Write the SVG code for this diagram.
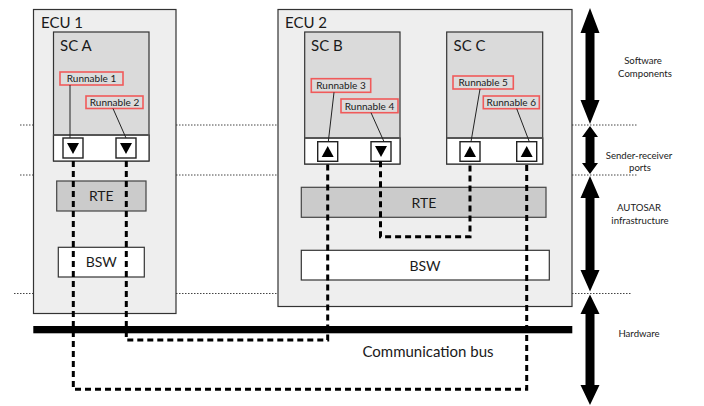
<svg xmlns="http://www.w3.org/2000/svg" width="704" height="406" viewBox="0 0 704 406">
  <style>
    text { font-family: Lato, "Open Sans", "Liberation Sans", sans-serif; fill: #1a1a1a; }
    .ecu { fill: #eeeeee; stroke: #333; stroke-width: 1.2; }
    .sc { fill: #dadada; stroke: #333; stroke-width: 1.2; }
    .strip { fill: #ffffff; stroke: #333; stroke-width: 1.2; }
    .stripline { stroke: #555; stroke-width: 2; }
    .rte { fill: #cbcbcb; stroke: #444; stroke-width: 1.2; }
    .bsw { fill: #ffffff; stroke: #333; stroke-width: 1.2; }
    .run { fill: #dcdcdc; stroke: #f05a5a; stroke-width: 1.6; }
    .port { fill: #ffffff; stroke: #222; stroke-width: 1.4; }
    .tri { fill: #000; }
    .link { stroke: #222; stroke-width: 1; fill: none; }
    .layer { stroke: #444; stroke-width: 1; stroke-dasharray: 1.5 1.5; fill: none; }
    .flow { stroke: #000; stroke-width: 3; stroke-dasharray: 6 4; fill: none; }
    .big { font-size: 15px; }
    .mid { font-size: 14px; }
    .small { font-size: 10px; }
    .side { font-size: 9.6px; text-anchor: middle; }
  </style>

  <!-- layer separators -->
  <g id="layers">
    <line class="layer" x1="20" y1="125" x2="638" y2="125"/>
    <line class="layer" x1="20" y1="175" x2="638" y2="175"/>
    <line class="layer" x1="14" y1="293.5" x2="632" y2="293.5"/>
  </g>

  <!-- ECU 1 -->
  <g id="ecu1">
    <rect class="ecu" x="33.5" y="9.5" width="142.5" height="304"/>
    <text class="big" x="41" y="28">ECU 1</text>
  </g>
  <g id="sc-a">
    <rect class="sc" x="53.5" y="32" width="95.5" height="129"/>
    <rect class="strip" x="53.5" y="135" width="95.5" height="26"/>
    <line class="stripline" x1="53.5" y1="135" x2="149" y2="135"/>
    <text class="big" x="60" y="51">SC A</text>
  </g>
  <g id="runnable1">
    <rect class="run" x="60" y="72" width="63" height="13"/>
    <text class="small" x="91.5" y="82" text-anchor="middle">Runnable 1</text>
  </g>
  <g id="runnable2">
    <rect class="run" x="86" y="96" width="57" height="12.5"/>
    <text class="small" x="114.5" y="105.8" text-anchor="middle">Runnable 2</text>
  </g>
  <g id="port-a1">
    <rect class="port" x="63" y="138" width="20" height="20"/>
    <polygon class="tri" points="67,143 79,143 73,154"/>
  </g>
  <g id="port-a2">
    <rect class="port" x="116" y="138" width="20" height="20"/>
    <polygon class="tri" points="120,143 132,143 126,154"/>
  </g>
  <g id="rte1">
    <rect class="rte" x="56.7" y="181" width="89.3" height="30"/>
    <text class="mid" x="101.3" y="201" text-anchor="middle">RTE</text>
  </g>
  <g id="bsw1">
    <rect class="bsw" x="58.3" y="247.3" width="86" height="29.7"/>
    <text class="mid" x="101.3" y="267" text-anchor="middle">BSW</text>
  </g>

  <!-- ECU 2 -->
  <g id="ecu2">
    <rect class="ecu" x="278" y="9.5" width="294" height="297"/>
    <text class="big" x="285" y="28">ECU 2</text>
  </g>
  <g id="sc-b">
    <rect class="sc" x="304.7" y="32" width="95.3" height="132"/>
    <rect class="strip" x="304.7" y="138" width="95.3" height="26"/>
    <line class="stripline" x1="304.7" y1="138" x2="400" y2="138"/>
    <text class="big" x="311" y="51">SC B</text>
  </g>
  <g id="sc-c">
    <rect class="sc" x="446.7" y="32" width="96" height="132"/>
    <rect class="strip" x="446.7" y="138" width="96" height="26"/>
    <line class="stripline" x1="446.7" y1="138" x2="542.7" y2="138"/>
    <text class="big" x="453.5" y="51">SC C</text>
  </g>
  <g id="runnable3">
    <rect class="run" x="311.3" y="78.7" width="59.4" height="13.6"/>
    <text class="small" x="341" y="89.2" text-anchor="middle">Runnable 3</text>
  </g>
  <g id="runnable4">
    <rect class="run" x="341" y="99" width="57" height="13.7"/>
    <text class="small" x="369.5" y="109.5" text-anchor="middle">Runnable 4</text>
  </g>
  <g id="runnable5">
    <rect class="run" x="453" y="76" width="60.3" height="13"/>
    <text class="small" x="483.2" y="86.2" text-anchor="middle">Runnable 5</text>
  </g>
  <g id="runnable6">
    <rect class="run" x="483.3" y="96" width="56" height="12.7"/>
    <text class="small" x="511.3" y="106" text-anchor="middle">Runnable 6</text>
  </g>
  <g id="port-b1">
    <rect class="port" x="317.7" y="141.7" width="20" height="19.6"/>
    <polygon class="tri" points="321.7,157 333.7,157 327.7,146"/>
  </g>
  <g id="port-b2">
    <rect class="port" x="371" y="141.7" width="20" height="19.6"/>
    <polygon class="tri" points="375,146 387,146 381,157"/>
  </g>
  <g id="port-c1">
    <rect class="port" x="460" y="141.7" width="20" height="19.6"/>
    <polygon class="tri" points="464,157 476,157 470,146"/>
  </g>
  <g id="port-c2">
    <rect class="port" x="516.7" y="141.7" width="20" height="19.6"/>
    <polygon class="tri" points="520.7,157 532.7,157 526.7,146"/>
  </g>
  <g id="rte2">
    <rect class="rte" x="301.3" y="187.3" width="244.7" height="30"/>
    <text class="mid" x="424" y="207.5" text-anchor="middle">RTE</text>
  </g>
  <g id="bsw2">
    <rect class="bsw" x="301.3" y="250.3" width="248" height="29.7"/>
    <text class="mid" x="425" y="270.5" text-anchor="middle">BSW</text>
  </g>

  <!-- communication bus -->
  <g id="bus">
    <rect x="33.3" y="326" width="539" height="7.3" fill="#000"/>
    <text class="big" x="428" y="357" text-anchor="middle">Communication bus</text>
  </g>

  <!-- connectors: runnable-to-port links and signal paths -->
  <g id="connectors">
    <line class="link" x1="70" y1="85" x2="70" y2="138"/>
    <line class="link" x1="113" y1="108.5" x2="126" y2="138"/>
    <line class="link" x1="334" y1="92.3" x2="328.3" y2="141.7"/>
    <line class="link" x1="371" y1="112.7" x2="384" y2="141.7"/>
    <line class="link" x1="480" y1="89" x2="471" y2="141.7"/>
    <line class="link" x1="516.7" y1="108.7" x2="529.3" y2="141.7"/>

    <polyline class="flow" points="73.3,161 73.3,389.3 526.7,389.3 526.7,161.3"/>
    <polyline class="flow" points="126.3,161 126.3,340 327.7,340 327.7,161.3"/>
    <polyline class="flow" points="380.5,161.3 380.5,236.7 470,236.7 470,161.3"/>
  </g>

  <!-- layer scale arrows -->
  <g id="scale-arrows" fill="#000">
    <polygon points="590,8 599.5,33 594.5,33 594.5,100 599.5,100 590,124 580.5,100 585.5,100 585.5,33 580.5,33"/>
    <polygon points="590,126 598,137 594.5,137 594.5,163 598,163 590,174 582,163 585.5,163 585.5,137 582,137"/>
    <polygon points="590,176 599.5,198 594.5,198 594.5,270 599.5,270 590,291.5 580.5,270 585.5,270 585.5,198 580.5,198"/>
    <polygon points="590,294.5 599.5,314 594.5,314 594.5,385 599.5,385 590,405 580.5,385 585.5,385 585.5,314 580.5,314"/>
  </g>

  <!-- layer labels -->
  <g id="layer-labels">
    <text class="side" x="643" y="64">Software</text>
    <text class="side" x="645" y="76.5">Components</text>
    <text class="side" x="639" y="159">Sender-receiver</text>
    <text class="side" x="640" y="170.5">ports</text>
    <text class="side" x="639" y="211">AUTOSAR</text>
    <text class="side" x="640" y="223.5">infrastructure</text>
    <text class="side" x="639" y="337">Hardware</text>
  </g>
</svg>
